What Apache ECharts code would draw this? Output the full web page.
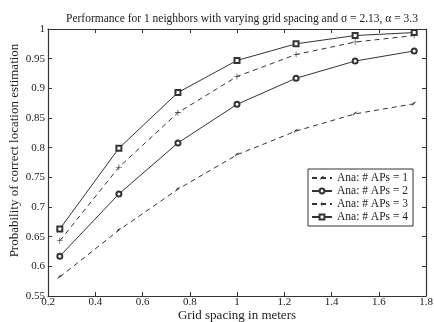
<!DOCTYPE html>
<html><head><meta charset="utf-8">
<script src="https://cdn.jsdelivr.net/npm/echarts@6/dist/echarts.min.js"></script>
<style>html,body{margin:0;padding:0;background:#fff}#c{width:434px;height:322px}</style>
</head><body><div id="c"></div>
<script>
const xVals = [0.25, 0.5, 0.75, 1.0, 1.25, 1.5, 1.75];
const aps1 = [0.582, 0.661, 0.730, 0.788, 0.828, 0.857, 0.874];
const aps2 = [0.617, 0.722, 0.808, 0.873, 0.917, 0.946, 0.963];
const aps3 = [0.643, 0.767, 0.859, 0.920, 0.957, 0.978, 0.989];
const aps4 = [0.663, 0.799, 0.893, 0.947, 0.975, 0.989, 0.994];
const names = ['Ana: # APs = 1','Ana: # APs = 2','Ana: # APs = 3','Ana: # APs = 4'];
const xTicks = [0.2,0.4,0.6,0.8,1,1.2,1.4,1.6,1.8];
const yTicks = [0.55,0.6,0.65,0.7,0.75,0.8,0.85,0.9,0.95,1];

const font = 'Liberation Serif, Times New Roman, serif';
const col = '#333';
const plus = 'path://M0,4.5H10V5.5H0Z M4.5,0H5.5V10H4.5Z';
const arrow = 'path://M0,10 L3,3 L10,0 L5,5 Z';
function pairs(a){ return xVals.map((x,i)=>[x,a[i]]); }
function mk(name, data, dashed, symbol, size){
  return {name, type:'line', data:pairs(data), symbol, symbolSize:size,
    lineStyle:{color:col,width:1,type:dashed?[5,4]:'solid'},
    itemStyle:{color:col, borderWidth:0.9},
    emphasis:{disabled:true}, animation:false};
}
const chart = echarts.init(document.getElementById('c'));
const axisCommon = {axisLine:{show:true,lineStyle:{color:col,width:1.2}},
  axisTick:{show:true,inside:true,length:4,lineStyle:{color:col}}, splitLine:{show:false}};
chart.setOption({
  backgroundColor:'#fff',
  title:{text:'Performance for 1 neighbors with varying grid spacing and σ = 2.13, α = 3.3',
    left:237, top:8, textAlign:'center',
    textStyle:{fontFamily:font,fontSize:11.5,fontWeight:'normal',color:'#222'}},
  grid:{left:48,right:8,top:29,bottom:26,containLabel:false,outerBoundsMode:'none'},
  legend:{orient:'vertical', left:308, top:169, itemWidth:20, itemHeight:6, itemGap:1,
    padding:[3,5,3,3], borderColor:col, borderWidth:1, backgroundColor:'#fff',
    textStyle:{fontFamily:font,fontSize:11.5,color:'#222'}, data:names},
  xAxis:[Object.assign({type:'value',min:0.2,max:1.8,interval:0.2,
    name:'Grid spacing in meters', nameLocation:'middle', nameGap:13, nameMoveOverlap:false,
    nameTextStyle:{fontFamily:font,fontSize:13,color:'#222'},
    axisLabel:{fontFamily:font,fontSize:11,color:'#222',margin:1,formatter:v=>String(+v.toFixed(1))}},axisCommon),
    Object.assign({type:'value',position:'top',min:0.2,max:1.8,interval:0.2,axisLabel:{show:false}},axisCommon)],
  yAxis:[Object.assign({type:'value',min:0.55,max:1,interval:0.05,
    name:'Probability of correct location estimation', nameLocation:'middle', nameGap:27, nameMoveOverlap:false,
    nameTextStyle:{fontFamily:font,fontSize:13,color:'#222',padding:[0,0,0,24]},
    axisLabel:{fontFamily:font,fontSize:11,color:'#222',margin:3,formatter:v=>String(+v.toFixed(2))}},axisCommon),
    Object.assign({type:'value',position:'right',min:0.55,max:1,interval:0.05,axisLabel:{show:false}},axisCommon)],
  series:[
    mk(names[0], aps1, true, arrow, 5),
    mk(names[1], aps2, false, 'emptyCircle', 5),
    mk(names[2], aps3, true, plus, 6),
    mk(names[3], aps4, false, 'emptyRect', 5)
  ]
});
</script></body></html>
